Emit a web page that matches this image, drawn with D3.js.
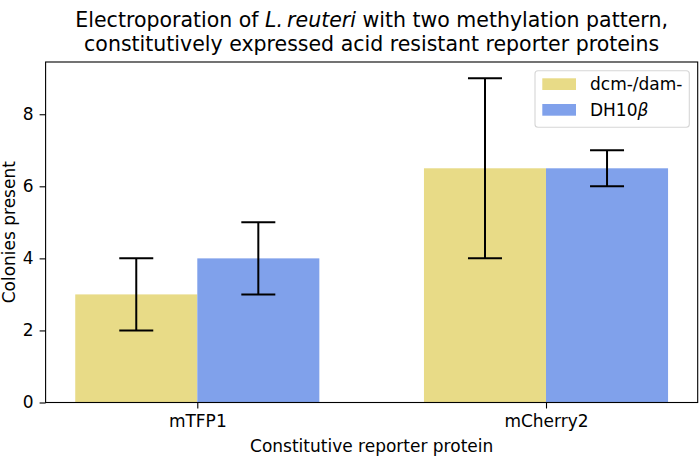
<!DOCTYPE html>
<html><head><meta charset="utf-8">
<script src="https://cdn.jsdelivr.net/npm/d3@7"></script>
<style>body{margin:0;background:#fff}svg{display:block;font-family:"DejaVu Sans",sans-serif}</style>
</head><body><svg id="c" width="699" height="465"></svg>
<script>
const categories = ["mTFP1", "mCherry2"];
const seriesNames = ["dcm-/dam-", "DH10β"];
const dcmValues = [3, 6.5];
const dcmErrors = [1, 2.5];
const dhValues = [4, 6.5];
const dhErrors = [1, 0.5];
const yTicks = [0, 2, 4, 6, 8];
const colors = ["#e8db87", "#80a1eb"];

const FS = 17, TFS = 20.5;
const svg = d3.select("#c");
const L = 45.6, R = 697.7, T = 62, B = 402.5;
const barW = 0.35;
const x = d3.scaleLinear().domain([-0.435, 1.435]).range([L, R]);
const y = d3.scaleLinear().domain([0, 9.45]).range([B, T]);

const series = [
  {name: seriesNames[0], vals: dcmValues, errs: dcmErrors, off: -barW/2, color: colors[0]},
  {name: seriesNames[1], vals: dhValues, errs: dhErrors, off: barW/2, color: colors[1]}
];

series.forEach(s => {
  categories.forEach((c, i) => {
    svg.append("rect")
      .attr("x", x(i + s.off - barW/2)).attr("y", y(s.vals[i]))
      .attr("width", x(i + s.off + barW/2) - x(i + s.off - barW/2))
      .attr("height", y(0) - y(s.vals[i]))
      .attr("fill", s.color);
  });
});
series.forEach(s => {
  categories.forEach((c, i) => {
    const cx = x(i + s.off);
    const lo = y(s.vals[i] - s.errs[i]), hi = y(s.vals[i] + s.errs[i]);
    const g = svg.append("g").attr("stroke", "#000").attr("stroke-width", 2);
    g.append("line").attr("x1", cx).attr("x2", cx).attr("y1", lo).attr("y2", hi);
    g.append("line").attr("x1", cx-17).attr("x2", cx+17).attr("y1", lo).attr("y2", lo);
    g.append("line").attr("x1", cx-17).attr("x2", cx+17).attr("y1", hi).attr("y2", hi);
  });
});

// axes frame
svg.append("rect").attr("x", L).attr("y", T).attr("width", R-L).attr("height", B-T)
  .attr("fill", "none").attr("stroke", "#000").attr("stroke-width", 1.1);

// y axis
const yAxis = d3.axisLeft(y).tickValues(yTicks).tickSize(6).tickPadding(6);
const gy = svg.append("g").attr("transform", `translate(${L},0)`).call(yAxis);
gy.attr("font-size", FS).attr("font-family", "DejaVu Sans");
gy.select(".domain").remove();
gy.selectAll("text").attr("fill", "#000");
gy.selectAll("line").attr("stroke-width", 1.1);

// x axis
const xAxis = d3.axisBottom(x).tickValues([0, 1]).tickFormat((d, i) => categories[i]).tickSize(6).tickPadding(6);
const gx = svg.append("g").attr("transform", `translate(0,${B})`).call(xAxis);
gx.attr("font-size", FS).attr("font-family", "DejaVu Sans");
gx.select(".domain").remove();
gx.selectAll("text").attr("fill", "#000");
gx.selectAll("line").attr("stroke-width", 1.1);

// axis labels
svg.append("text").attr("x", (L+R)/2).attr("y", 452).attr("text-anchor", "middle")
  .attr("font-size", FS).text("Constitutive reporter protein");
svg.append("text").attr("transform", `translate(14.5,${(T+B)/2}) rotate(-90)`).attr("text-anchor", "middle")
  .attr("font-size", FS).text("Colonies present");

// title
const t1 = svg.append("text").attr("x", (L+R)/2).attr("y", 27).attr("text-anchor", "middle").attr("font-size", TFS);
t1.append("tspan").text("Electroporation of ");
t1.append("tspan").attr("font-style", "italic").text("L.\u2009reuteri");
t1.append("tspan").text(" with two methylation pattern,");
svg.append("text").attr("x", (L+R)/2).attr("y", 51).attr("text-anchor", "middle").attr("font-size", TFS)
  .text("constitutively expressed acid resistant reporter proteins");

// legend
const lg = svg.append("g");
lg.append("rect").attr("x", 535).attr("y", 70.7).attr("width", 154.3).attr("height", 56.6)
  .attr("rx", 3).attr("fill", "#fff").attr("fill-opacity", 0.8).attr("stroke", "#d6d6d6").attr("stroke-width", 1.1);
series.forEach((s, i) => {
  const yy = 78.3 + i*25.7;
  lg.append("rect").attr("x", 542.3).attr("y", yy).attr("width", 33.7).attr("height", 11.7).attr("fill", s.color);
  const t = lg.append("text").attr("x", 590).attr("y", yy + 12).attr("font-size", FS);
  if (s.name.endsWith("β")) {
    t.append("tspan").text(s.name.slice(0, -1));
    t.append("tspan").attr("font-style", "italic").text("β");
  } else t.text(s.name);
});
</script></body></html>
